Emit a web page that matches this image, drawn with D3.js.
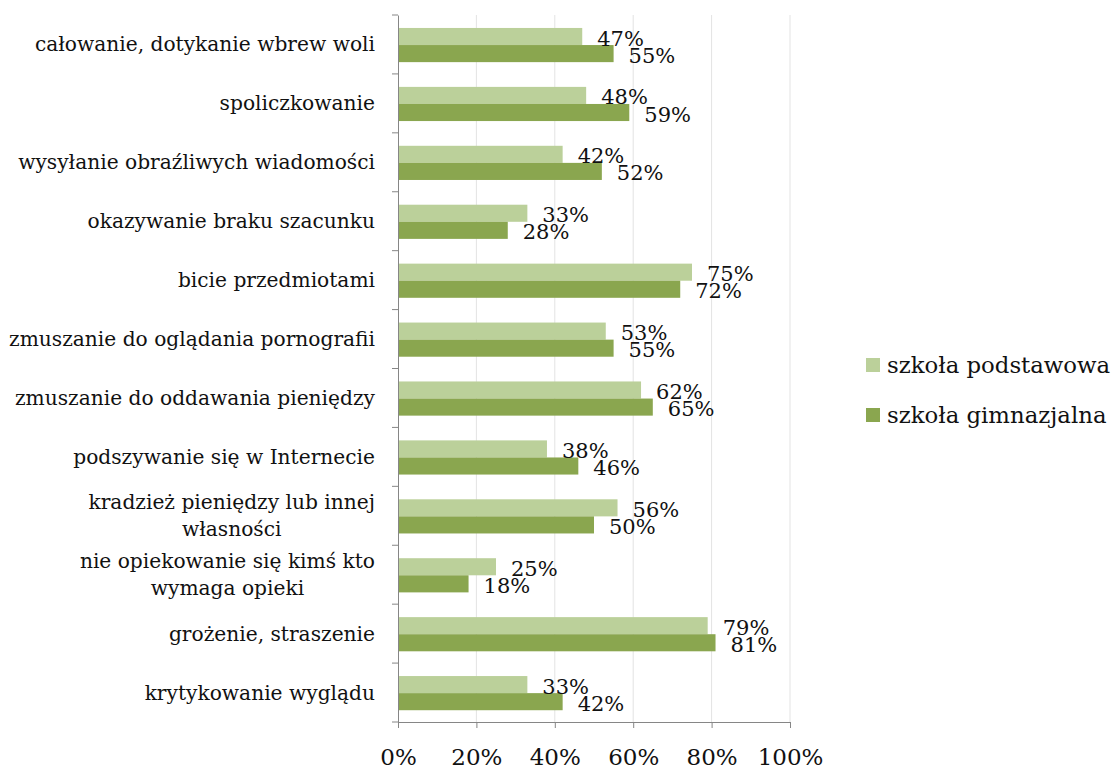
<!DOCTYPE html>
<html><head><meta charset="utf-8">
<script src="https://cdn.jsdelivr.net/npm/d3@7"></script>
<style>
html,body{margin:0;padding:0;background:#fff;}
svg{display:block;font-family:"DejaVu Serif",serif;}
</style></head>
<body>
<svg id="chart" width="1112" height="769"></svg>
<script>
const categories = [
  "całowanie, dotykanie wbrew woli",
  "spoliczkowanie",
  "wysyłanie obraźliwych wiadomości",
  "okazywanie braku szacunku",
  "bicie przedmiotami",
  "zmuszanie do oglądania pornografii",
  "zmuszanie do oddawania pieniędzy",
  "podszywanie się w Internecie",
  "kradzież pieniędzy lub innej|własności",
  "nie opiekowanie się kimś kto|wymaga opieki",
  "grożenie, straszenie",
  "krytykowanie wyglądu"
];
const seriesNames = ["szkoła podstawowa", "szkoła gimnazjalna"];
const podstawowa = [0.47, 0.48, 0.42, 0.33, 0.75, 0.53, 0.62, 0.38, 0.56, 0.25, 0.79, 0.33];
const gimnazjalna = [0.55, 0.59, 0.52, 0.28, 0.72, 0.55, 0.65, 0.46, 0.50, 0.18, 0.81, 0.42];
const xTicks = [0, 0.2, 0.4, 0.6, 0.8, 1.0];
const colors = ["#bbd09a", "#8aa64f"];

const svg = d3.select("#chart");
const x = d3.scaleLinear().domain([0, 1]).range([398, 790]);
const y = d3.scaleBand().domain(categories).range([15, 722]).paddingInner(0).paddingOuter(0);
const bw = y.bandwidth();
const barH = bw * 0.29;
const sub = d3.scaleBand().domain(seriesNames).range([0, barH * 2]);
const offs = bw * 0.22;

// gridlines
svg.append("g").selectAll("line").data(xTicks.slice(1)).join("line")
  .attr("x1", d => x(d)).attr("x2", d => x(d))
  .attr("y1", 15).attr("y2", 722)
  .attr("stroke", "#e3e3e3").attr("stroke-width", 1);

const data = [podstawowa, gimnazjalna];
const groups = svg.append("g").selectAll("g").data(categories).join("g")
  .attr("transform", d => `translate(0,${y(d) + offs})`);

groups.each(function(c, i) {
  const g = d3.select(this);
  seriesNames.forEach((s, k) => {
    const v = data[k][i];
    g.append("rect")
      .attr("x", x(0)).attr("y", sub(s))
      .attr("width", x(v) - x(0)).attr("height", sub.bandwidth())
      .attr("fill", colors[k]);
  });
  seriesNames.forEach((s, k) => {
    const v = data[k][i];
    g.append("text")
      .attr("x", x(v) + 15).attr("y", sub(s) + sub.bandwidth() + 0.5)
      .attr("font-size", 21).attr("fill", "#111")
      .text(Math.round(v * 100) + "%");
  });
});

// y axis
const yAxis = d3.axisLeft(y).tickSize(0).tickFormat("");
const ya = svg.append("g").attr("transform", `translate(${x(0)},0)`).call(yAxis);
ya.select(".domain").attr("stroke", "#868686");
ya.selectAll(".tick").remove();
svg.append("g").selectAll("line").data(categories.concat([null])).join("line")
  .attr("x1", x(0) - 6).attr("x2", x(0))
  .attr("y1", (d, i) => 15 + i * bw).attr("y2", (d, i) => 15 + i * bw)
  .attr("stroke", "#868686");

// category labels
svg.append("g").selectAll("text").data(categories).join("text")
  .attr("font-size", 20.2).attr("fill", "#111")
  .each(function(c) {
    const t = d3.select(this);
    const lines = c.split("|");
    const cy = y(c) + bw / 2;
    if (lines.length === 1) {
      t.attr("text-anchor", "end").attr("x", 375).attr("y", cy + 7).text(lines[0]);
    } else {
      t.attr("text-anchor", "middle");
      const tmp = t.append("tspan").text(lines[0]);
      const w = tmp.node().getComputedTextLength();
      tmp.remove();
      const cx = 375 - w / 2;
      lines.forEach((l, j) => {
        t.append("tspan").attr("x", cx).attr("y", cy + 7 + (j - 0.5) * 27).text(l);
      });
    }
  });

// x axis
const xAxis = d3.axisBottom(x).tickValues(xTicks).tickSize(6).tickFormat(d => Math.round(d * 100) + "%");
const xa = svg.append("g").attr("transform", "translate(0,722)").call(xAxis);
xa.select(".domain").attr("stroke", "#868686");
xa.selectAll(".tick line").attr("stroke", "#868686");
xa.selectAll(".tick text").attr("font-family", "DejaVu Serif").attr("font-size", 23)
  .attr("fill", "#111").attr("dy", null).attr("y", 43);

// legend
const leg = svg.append("g").selectAll("g").data(seriesNames).join("g")
  .attr("transform", (d, i) => `translate(866,${358 + i * 50})`);
leg.append("rect").attr("width", 14).attr("height", 14).attr("fill", (d, i) => colors[i]);
leg.append("text").attr("x", 21).attr("y", 15).attr("font-size", 22.8).attr("fill", "#111").text(d => d);
</script>
</body></html>
